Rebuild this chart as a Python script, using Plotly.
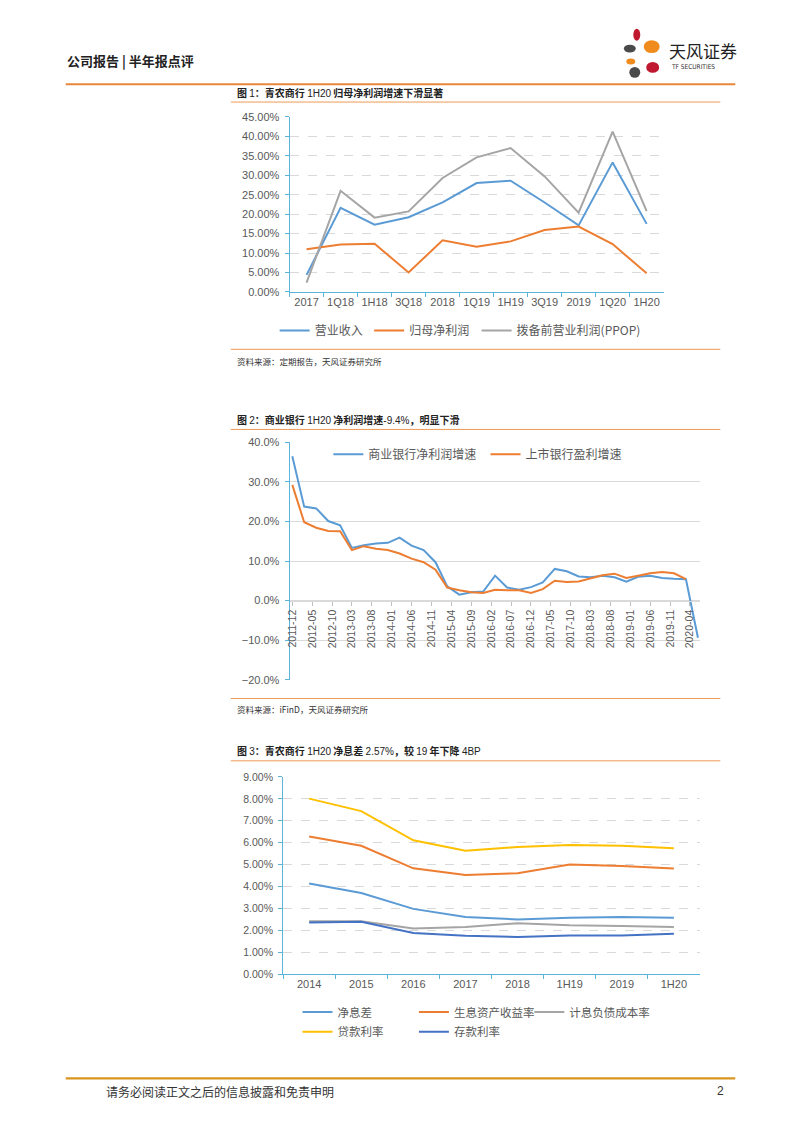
import plotly.graph_objects as go

# The page body keeps its default 8px margin, so the figure is sized so that
# margin + figure = 794 x 1123 exactly; all positions below are page pixels.
PAGE_W, PAGE_H = 794, 1123
OFF = 8
W, H = PAGE_W - 2 * OFF, PAGE_H - 2 * OFF


def fx(px):
    return (px - OFF) / W


def fy(py):
    return 1 - (py - OFF) / H


# ---------------- Chart 1 data ----------------
c1_cats = ["2017", "1Q18", "1H18", "3Q18", "2018", "1Q19", "1H19", "3Q19", "2019", "1Q20", "1H20"]
c1_revenue = [4.4, 21.6, 17.3, 19.2, 23.0, 28.0, 28.6, 23.0, 17.1, 33.3, 17.5]
c1_netprofit = [11.0, 12.2, 12.4, 5.0, 13.3, 11.6, 13.0, 15.9, 16.8, 12.3, 4.8]
c1_ppop = [2.4, 26.0, 19.1, 20.7, 29.3, 34.6, 37.0, 29.7, 20.4, 41.2, 20.8]
c1_names = ["营业收入", "归母净利润", "拨备前营业利润(PPOP)"]

# ---------------- Chart 2 data ----------------
c2_dates = ["2011-12", "2012-03", "2012-06", "2012-09", "2012-12", "2013-03", "2013-06", "2013-09",
            "2013-12", "2014-03", "2014-06", "2014-09", "2014-12", "2015-03", "2015-06", "2015-09",
            "2015-12", "2016-03", "2016-06", "2016-09", "2016-12", "2017-03", "2017-06", "2017-09",
            "2017-12", "2018-03", "2018-06", "2018-09", "2018-12", "2019-03", "2019-06", "2019-09",
            "2019-12", "2020-03", "2020-06"]
c2_commercial = [36.5, 23.75, 23.3, 20.1, 19.0, 13.3, 14.0, 14.4, 14.6, 15.9, 13.9, 12.75, 9.7, 3.6,
                 1.5, 2.1, 2.3, 6.3, 3.3, 2.75, 3.4, 4.6, 8.0, 7.4, 6.1, 5.9, 6.3, 5.9, 4.8, 6.0, 6.3,
                 5.7, 5.5, 5.4, -9.4]
c2_listed = [29.25, 19.8, 18.4, 17.6, 17.5, 12.75, 13.75, 13.1, 12.8, 11.9, 10.6, 9.7, 7.8, 3.3,
             2.6, 2.1, 1.9, 2.75, 2.6, 2.6, 1.9, 2.9, 5.0, 4.7, 4.8, 5.6, 6.4, 6.8, 5.7, 6.3, 6.9,
             7.2, 6.9, 5.4]
c2_names = ["商业银行净利润增速", "上市银行盈利增速"]
c2_ticks = ["2011-12", "2012-05", "2012-10", "2013-03", "2013-08", "2014-01", "2014-06", "2014-11",
            "2015-04", "2015-09", "2016-02", "2016-07", "2016-12", "2017-05", "2017-10", "2018-03",
            "2018-08", "2019-01", "2019-06", "2019-11", "2020-04"]

# ---------------- Chart 3 data ----------------
c3_cats = ["2014", "2015", "2016", "2017", "2018", "1H19", "2019", "1H20"]
c3_nim = [4.14, 3.70, 2.98, 2.61, 2.50, 2.58, 2.61, 2.57]
c3_yield = [6.28, 5.86, 4.83, 4.53, 4.61, 5.00, 4.94, 4.82]
c3_cost = [2.41, 2.42, 2.08, 2.15, 2.32, 2.23, 2.20, 2.15]
c3_loan = [8.01, 7.44, 6.11, 5.63, 5.80, 5.89, 5.86, 5.75]
c3_deposit = [2.36, 2.39, 1.88, 1.75, 1.70, 1.76, 1.76, 1.84]
c3_names = ["净息差", "生息资产收益率", "计息负债成本率", "贷款利率", "存款利率"]

# ---------------- styles ----------------
BLUE = "#5B9BD5"
ORANGE = "#ED7D31"
GRAY = "#A5A5A5"
YELLOW = "#FFC000"
DBLUE = "#4472C4"
AXIS = "#5AB4DC"
GRID = "#D9D9D9"
TXT = "#595959"
CJK = "Noto Sans CJK SC"
NUM = "Liberation Sans"

fig = go.Figure()


def add_line(x, y, color, name, xa, ya, legend, width=2):
    fig.add_trace(go.Scatter(x=x, y=y, mode="lines", name=name,
                             line=dict(color=color, width=width),
                             xaxis=xa, yaxis=ya, legend=legend, showlegend=True,
                             hoverinfo="skip"))


add_line(c1_cats, c1_revenue, BLUE, c1_names[0], "x", "y", "legend")
add_line(c1_cats, c1_netprofit, ORANGE, c1_names[1], "x", "y", "legend2")
add_line(c1_cats, c1_ppop, GRAY, c1_names[2], "x", "y", "legend3")

add_line(c2_dates, c2_commercial, BLUE, c2_names[0], "x2", "y2", "legend4", 2)
add_line(c2_dates[:len(c2_listed)], c2_listed, ORANGE, c2_names[1], "x2", "y2", "legend5", 2)

add_line(c3_cats, c3_nim, BLUE, c3_names[0], "x3", "y3", "legend6")
add_line(c3_cats, c3_yield, ORANGE, c3_names[1], "x3", "y3", "legend7")
add_line(c3_cats, c3_cost, GRAY, c3_names[2], "x3", "y3", "legend8")
add_line(c3_cats, c3_loan, YELLOW, c3_names[3], "x3", "y3", "legend9")
add_line(c3_cats, c3_deposit, DBLUE, c3_names[4], "x3", "y3", "legend10")

tickfont = dict(family=NUM, size=11, color=TXT)

layout = dict(
    width=W, height=H, margin=dict(l=0, r=0, t=0, b=0),
    paper_bgcolor="white", plot_bgcolor="white",
    font=dict(family=CJK, color=TXT),
    # chart 1
    xaxis=dict(domain=[fx(287), fx(663)], anchor="y", type="category", range=[-0.5, 10.5],
               showline=True, linecolor=AXIS, linewidth=1, ticks="outside", tickson="boundaries",
               ticklen=4, tickcolor=AXIS, tickfont=tickfont, tickangle=0, showgrid=False,
               zeroline=False),
    yaxis=dict(domain=[fy(289), fy(112)], anchor="x", range=[0, 45], dtick=5, tickformat=".2f",
               ticksuffix="%", showgrid=True, gridcolor=GRID, griddash="dash", showline=True,
               linecolor=AXIS, ticks="outside", ticklen=4, tickcolor=AXIS, tickfont=tickfont,
               zeroline=False, ticklabelstandoff=3),
    # chart 2
    xaxis2=dict(domain=[fx(287), fx(700)], anchor="free", position=fy(601), type="date",
                range=["2011-11-10", "2020-06-20"], tickmode="array", tickvals=c2_ticks,
                ticktext=c2_ticks, tickangle=-90, ticks="outside", ticklen=4, tickcolor="#BFBFBF",
                showline=True, linecolor=GRID, showgrid=False, zeroline=False,
                tickfont=dict(family=NUM, size=10.5, color=TXT)),
    yaxis2=dict(domain=[fy(681), fy(441)], anchor="x2", range=[-20, 40], dtick=10, tickformat=".1f",
                ticksuffix="%", showgrid=True, gridcolor=GRID, showline=True, linecolor=AXIS,
                ticks="outside", ticklen=4, tickcolor=AXIS, tickfont=tickfont, zeroline=False,
                ticklabelstandoff=3),
    # chart 3
    xaxis3=dict(domain=[fx(280.5), fx(699.5)], anchor="y3", type="category", range=[-0.5, 7.5],
                showline=True, linecolor=AXIS, ticks="outside", tickson="boundaries", ticklen=4,
                tickcolor=AXIS, tickfont=tickfont, tickangle=0, showgrid=False, zeroline=False),
    yaxis3=dict(domain=[fy(978.7), fy(779.3)], anchor="x3", range=[0, 9], dtick=1, tickformat=".2f",
                ticksuffix="%", showgrid=True, gridcolor=GRID, griddash="dash", showline=True,
                linecolor=AXIS, ticks="outside", ticklen=4, tickcolor=AXIS,
                tickfont=dict(family=NUM, size=10.5, color=TXT), zeroline=False,
                ticklabelstandoff=3),
)

# legend entries: (line start px, centre y px, font size)
legend_pos = {
    "legend": (277, 328, 12), "legend2": (372, 328, 12), "legend3": (480, 328, 12),
    "legend4": (331, 453, 12), "legend5": (489, 453, 12),
    "legend6": (300, 1017, 11.5), "legend7": (417, 1017, 11.5), "legend8": (533, 1017, 11.5),
    "legend9": (300, 1037, 11.5), "legend10": (417, 1037, 11.5),
}
for key, (lx, ly, fs) in legend_pos.items():
    layout[key] = dict(x=fx(lx - 5), xanchor="left", y=fy(ly), yanchor="middle",
                       orientation="h", bgcolor="rgba(0,0,0,0)",
                       font=dict(family=CJK, size=fs, color=TXT),
                       itemwidth=30, borderwidth=0)

fig.update_layout(**layout)

# ---------------- page decorations ----------------
shapes = []
annotations = []


def hline(x0, x1, y, color, width):
    shapes.append(dict(type="line", xref="paper", yref="paper", x0=fx(x0), x1=fx(x1),
                       y0=fy(y), y1=fy(y), line=dict(color=color, width=width)))


def text(x, y, s, size, color="#333333", anchor="left", family=CJK):
    annotations.append(dict(x=fx(x), y=fy(y), xref="paper", yref="paper", text=s,
                            showarrow=False, xanchor=anchor, yanchor="middle",
                            font=dict(family=family, size=size, color=color)))


# header
text(61, 55, "<b>公司报告 | 半年报点评</b>", 13, "#222222")
hline(62, 735, 79, "#E8873A", 2.2)
# logo
petals = [
    (636, 29, 3.5, 6, "#C0192F"),
    (629, 43, 6, 4, "#4A4A4A"),
    (651, 41, 8, 6.5, "#F08C1E"),
    (630, 56, 4.5, 3, "#F08C1E"),
    (652, 62, 6.5, 5.5, "#C0192F"),
    (634, 67, 5.5, 5.5, "#4A4A4A"),
]
for cx, cy, rx, ry, col in petals:
    shapes.append(dict(type="circle", xref="paper", yref="paper", x0=fx(cx - rx), x1=fx(cx + rx),
                       y0=fy(cy + ry), y1=fy(cy - ry), fillcolor=col, line=dict(width=0)))
text(666, 45, "天风证券", 17, "#222222")
text(668, 62, "TF SECURITIES", 6.5, "#333333", family="DejaVu Sans Condensed")

# titles
title_num = "<span style='font-family:Liberation Sans'>{}</span>"
text(232, 87, "<b>图 </b>" + title_num.format("1") + "<b>：青农商行 </b>" + title_num.format("1H20")
     + "<b> 归母净利润增速下滑显著</b>", 10, "#222222")
hline(228, 720, 97, "#EE9A55", 1)
hline(228, 720, 347, "#EE9A55", 1)
text(232, 359, "资料来源：定期报告，天风证券研究所", 8.5, "#333333")

text(232, 418, "<b>图 </b>" + title_num.format("2") + "<b>：商业银行 </b>" + title_num.format("1H20")
     + "<b> 净利润增速</b>" + title_num.format("-9.4%") + "<b>，明显下滑</b>", 10, "#222222")
hline(228, 720, 428, "#EE9A55", 1)
hline(228, 720, 700, "#EE9A55", 1)
text(232, 711, "资料来源：iFinD，天风证券研究所", 8.5, "#333333")

text(232, 753, "<b>图 </b>" + title_num.format("3") + "<b>：青农商行 </b>" + title_num.format("1H20")
     + "<b> 净息差 </b>" + title_num.format("2.57%") + "<b>，较 </b>" + title_num.format("19")
     + "<b> 年下降 </b>" + title_num.format("4BP"), 10, "#222222")
hline(228, 720, 763, "#EE9A55", 1)

# footer
hline(62, 735, 1084, "#D9961F", 2.2)
text(100, 1097, "请务必阅读正文之后的信息披露和免责申明", 12, "#333333")
text(726, 1097, "2", 12, "#333333", anchor="right", family=NUM)

fig.update_layout(shapes=shapes, annotations=annotations)

fig.write_html("out.html", config={"displayModeBar": False})
